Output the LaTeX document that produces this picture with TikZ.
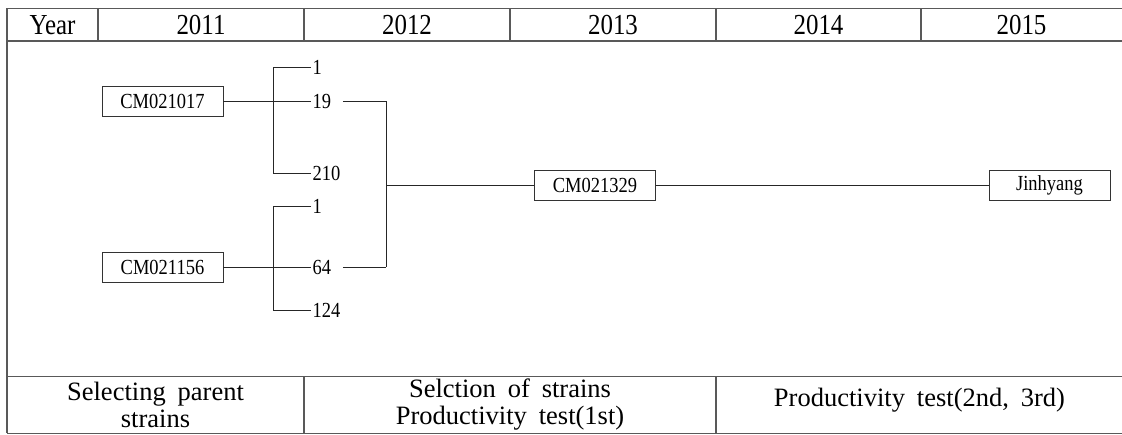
\documentclass[tikz,border=0pt]{standalone}
\usepackage{fontspec}
\setmainfont{Liberation Serif}[FakeStretch=0.86]
\newfontfamily\footfont{Liberation Serif}[WordSpace=1.8]
\begin{document}
\begin{tikzpicture}[x=1pt,y=-1pt,
  grid/.style={draw=black!65,line width=1.2pt},
  conn/.style={draw=black!85,line width=0.9pt},
  hdr/.style={font=\fontsize{29}{30}\selectfont,inner sep=0pt},
  foot/.style={font=\footfont\fontsize{26.5}{27}\selectfont,inner sep=0pt,align=center},
  strain/.style={draw=black!80,line width=0.9pt,minimum width=121pt,minimum height=30pt,inner sep=0pt,font=\fontsize{21.5}{22}\selectfont},
  lab/.style={anchor=west,inner xsep=1.5pt,inner ysep=0pt,font=\fontsize{21.5}{22}\selectfont}]
\useasboundingbox (0,0) rectangle (1122,435);
% table frame
\draw[grid] (7,8.5) -- (1122,8.5);
\draw[grid] (7,41) -- (1122,41);
\draw[grid] (7,376.5) -- (1122,376.5);
\draw[grid] (7,433.5) -- (1122,433.5);
\draw[grid] (7,8.5) -- (7,433.5);
\foreach \x in {98,304,510,716,921} \draw[grid] (\x,8.5) -- (\x,41);
\foreach \x in {304,716} \draw[grid] (\x,376.5) -- (\x,433.5);
% header
\node[hdr] (hy) at (52.5,25) {Year};
\node[hdr] (h11) at (201,25) {2011};
\node[hdr] (h12) at (407,25) {2012};
\node[hdr] (h13) at (613,25) {2013};
\node[hdr] (h14) at (818.5,25) {2014};
\node[hdr] (h15) at (1021.5,25) {2015};
% footer
\node[foot] (f1) at (155.5,405) {Selecting parent\\strains};
\node[foot] (f2) at (510,405) {Selction of strains\\Productivity test(1st)};
\node[foot] (f3) at (919.5,400) {Productivity test(2nd, 3rd)};
% strain boxes
\node[strain] (p1) at (162.5,101.5) {CM021017};
\node[strain] (p2) at (162.5,267.5) {CM021156};
\node[strain] (c1) at (595,185) {CM021329};
\node[strain] (jh) at (1049.5,185) {Jinhyang};
% selection labels
\node[lab] (a1) at (311,67) {1};
\node[lab] (a19) at (311,101.5) {19};
\node[lab] (a210) at (311,173) {210};
\node[lab] (b1) at (311,206) {1};
\node[lab] (b64) at (311,267.5) {64};
\node[lab] (b124) at (311,310) {124};
% bracket coordinates
\coordinate (ta) at (273,67);
\coordinate (tb) at (273,173);
\coordinate (ua) at (273,206);
\coordinate (ub) at (273,310);
\coordinate (j1) at (386,101.5);
\coordinate (j2) at (386,267.5);
\coordinate (jm) at (386,185);
% connectors
\draw[conn] (a1.west) -- (ta) -- (tb) -- (a210.west);
\draw[conn] (p1.east) -- (a19.west);
\draw[conn] (b1.west) -- (ua) -- (ub) -- (b124.west);
\draw[conn] (p2.east) -- (b64.west);
\draw[conn,shorten <=10pt] (a19.east) -- (j1) -- (j2);
\draw[conn,shorten <=10pt] (b64.east) -- (j2);
\draw[conn] (jm) -- (c1.west);
\draw[conn] (c1.east) -- (jh.west);
\end{tikzpicture}
\end{document}
